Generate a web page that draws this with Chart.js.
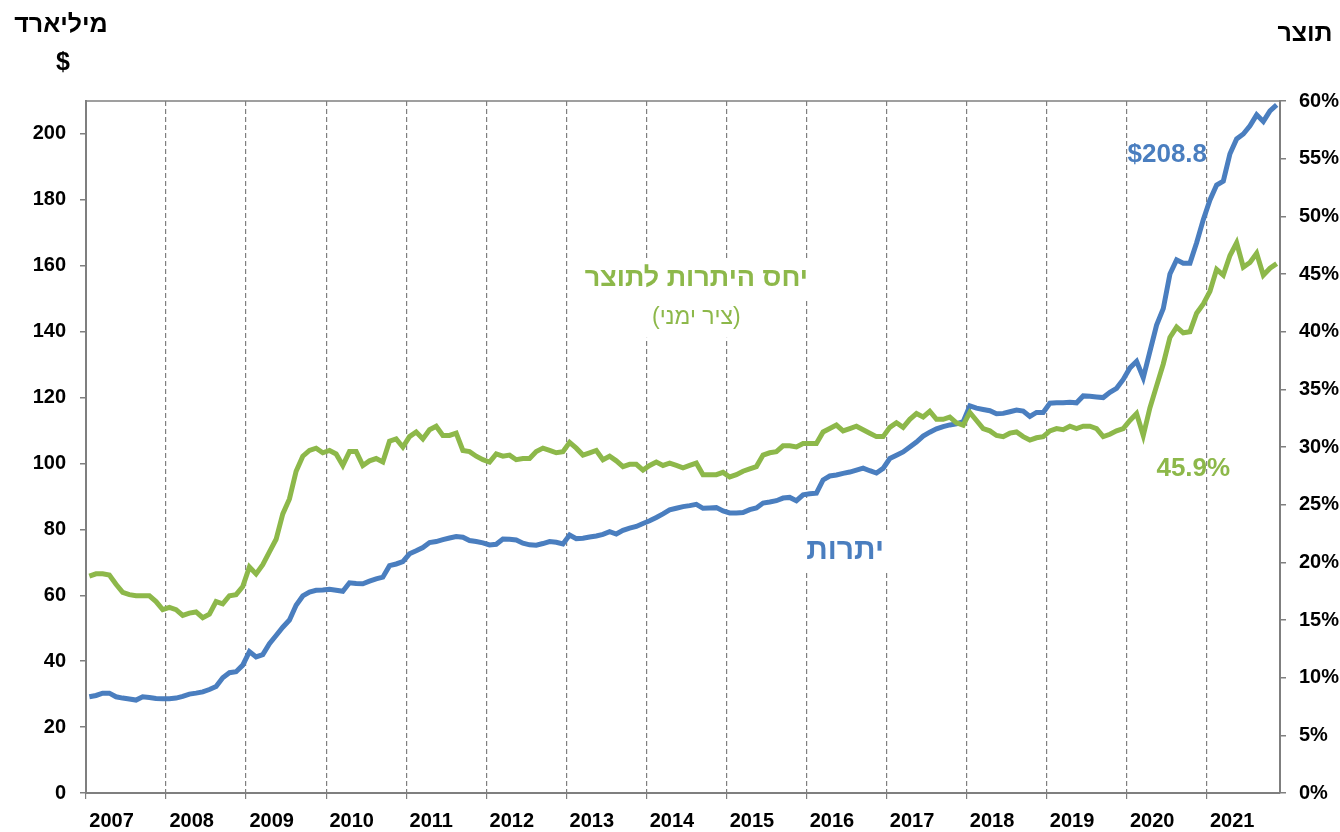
<!DOCTYPE html>
<html lang="he">
<head>
<meta charset="UTF-8">
<title>יתרות ויחס היתרות לתוצר</title>
<script src="https://cdn.jsdelivr.net/npm/chart.js@4.4.0/dist/chart.umd.min.js"></script>
<style>
  html, body { margin: 0; padding: 0; background: #fff; }
  #wrap { width: 1340px; height: 832px; position: relative; }
</style>
</head>
<body>
<div id="wrap"><canvas id="c"></canvas></div>
<script>
// monthly data, Jan 2007 .. Nov 2021
const START_YEAR = 2007;
const MONTH_COUNT = 179;

// reserves, billion $ (left axis)
const reserves = [
  29.2, 29.6, 30.3, 30.3, 29.2, 28.8, 28.5, 28.2, 29.2, 29.0, 28.7, 28.6,   // 2007
  28.6, 28.8, 29.3, 30.0, 30.3, 30.7, 31.4, 32.3, 35.0, 36.5, 36.8, 38.8,   // 2008
  42.9, 41.3, 42.0, 45.3, 47.8, 50.3, 52.5, 57.0, 59.8, 61.0, 61.5, 61.6,   // 2009
  61.8, 61.5, 61.2, 63.8, 63.6, 63.5, 64.3, 65.0, 65.5, 69.0, 69.5, 70.2,   // 2010
  72.6, 73.5, 74.5, 76.0, 76.3, 76.9, 77.4, 77.8, 77.6, 76.6, 76.3, 75.9,   // 2011
  75.3, 75.5, 77.1, 77.0, 76.8, 75.8, 75.3, 75.2, 75.7, 76.3, 76.1, 75.6,   // 2012
  78.3, 77.2, 77.3, 77.7, 78.0, 78.5, 79.3, 78.6, 79.7, 80.4, 80.9, 81.8,   // 2013
  82.6, 83.6, 84.7, 85.9, 86.4, 86.9, 87.2, 87.6, 86.4, 86.5, 86.6, 85.6,   // 2014
  85.0, 85.0, 85.1, 86.0, 86.5, 88.0, 88.3, 88.7, 89.5, 89.7, 88.7, 90.5,   // 2015
  90.8, 91.0, 95.0, 96.2, 96.5, 97.0, 97.4, 98.0, 98.6, 97.8, 97.1, 98.5,   // 2016
  101.5, 102.5, 103.5, 105.0, 106.5, 108.3, 109.5, 110.5, 111.2, 111.7, 112.0, 112.7, // 2017
  117.5, 116.8, 116.4, 116.0, 115.1, 115.2, 115.7, 116.2, 115.9, 114.3, 115.5, 115.5, // 2018
  118.3, 118.4, 118.4, 118.6, 118.4, 120.5, 120.4, 120.2, 120.0, 121.6, 122.8, 125.5, // 2019
  129.0, 131.0, 126.0, 134.0, 142.0, 147.0, 157.5, 161.8, 160.8, 160.8, 167.0, 174.0, // 2020
  180.0, 184.5, 185.7, 194.0, 198.5, 200.0, 202.5, 205.8, 203.8, 207.0, 208.8         // 2021
];

// reserves to GDP, % (right axis)
const reservesToGdp = [
  18.8, 19.0, 19.0, 18.9, 18.1, 17.4, 17.2, 17.1, 17.1, 17.1, 16.6, 15.9,   // 2007
  16.1, 15.9, 15.4, 15.6, 15.7, 15.2, 15.5, 16.6, 16.4, 17.1, 17.2, 17.9,   // 2008
  19.6, 19.0, 19.8, 20.9, 22.0, 24.2, 25.5, 27.9, 29.2, 29.7, 29.9, 29.5,   // 2009
  29.7, 29.4, 28.4, 29.6, 29.6, 28.4, 28.8, 29.0, 28.7, 30.5, 30.7, 30.0,   // 2010
  30.9, 31.3, 30.7, 31.5, 31.8, 31.0, 31.0, 31.2, 29.7, 29.6, 29.2, 28.9,   // 2011
  28.7, 29.4, 29.2, 29.3, 28.9, 29.0, 29.0, 29.6, 29.9, 29.7, 29.5, 29.6,   // 2012
  30.4, 29.9, 29.3, 29.5, 29.7, 28.9, 29.2, 28.8, 28.3, 28.5, 28.5, 28.0,   // 2013
  28.4, 28.7, 28.4, 28.6, 28.4, 28.2, 28.4, 28.6, 27.6, 27.6, 27.6, 27.8,   // 2014
  27.4, 27.6, 27.9, 28.1, 28.3, 29.3, 29.5, 29.6, 30.1, 30.1, 30.0, 30.3,   // 2015
  30.3, 30.3, 31.3, 31.6, 31.9, 31.4, 31.6, 31.8, 31.5, 31.2, 30.9, 30.9,   // 2016
  31.7, 32.1, 31.7, 32.4, 32.9, 32.6, 33.1, 32.4, 32.4, 32.6, 32.1, 31.9,   // 2017
  33.0, 32.3, 31.6, 31.4, 31.0, 30.9, 31.2, 31.3, 30.9, 30.6, 30.8, 30.9,   // 2018
  31.4, 31.6, 31.5, 31.8, 31.6, 31.8, 31.8, 31.6, 30.9, 31.1, 31.4, 31.6,   // 2019
  32.3, 32.9, 31.0, 33.4, 35.3, 37.2, 39.5, 40.4, 39.9, 40.0, 41.6, 42.4,   // 2020
  43.5, 45.4, 44.9, 46.6, 47.7, 45.6, 46.0, 46.8, 44.9, 45.5, 45.9          // 2021
];

const months = [];
for (let i = 0; i < MONTH_COUNT; i++) {
  const y = START_YEAR + Math.floor(i / 12);
  months.push(y + '-' + String(i % 12 + 1).padStart(2, '0'));
}

const BLUE = '#4a7ebf';
const GREEN = '#8db84a';
const AXIS = '#7f7f7f';
const FONT = '"Liberation Sans", Arial, sans-serif';

// text labels inside the plot: [text, month index, left-axis value, font, colour, white box]
const notes = [
  ['יחס היתרות לתוצר', 91, 156.0, 'bold 27px ' + FONT, GREEN, true],
  ['(ציר ימני)', 91, 144.2, '23px ' + FONT, GREEN, true],
  ['יתרות', 113.3, 73.4, 'bold 30px ' + FONT, BLUE, true],
  ['$208.8', 161.6, 193.6, 'bold 26px ' + FONT, BLUE, false],
  ['45.9%', 165.5, 98.3, 'bold 26px ' + FONT, GREEN, false]
];

const overlay = {
  id: 'overlay',
  beforeDatasetsDraw(chart) {
    const {ctx, chartArea, scales} = chart;
    ctx.save();
    // top frame line
    ctx.strokeStyle = AXIS;
    ctx.lineWidth = 1.5;
    ctx.beginPath();
    ctx.moveTo(chartArea.left, chartArea.top);
    ctx.lineTo(chartArea.right, chartArea.top);
    ctx.stroke();
    // white boxes behind the series names
    ctx.fillStyle = '#fff';
    notes.forEach(n => {
      if (!n[5]) return;
      ctx.font = n[3];
      const w = ctx.measureText(n[0]).width;
      const x = scales.x.getPixelForValue(n[1]);
      const y = scales.y.getPixelForValue(n[2]);
      ctx.fillRect(x - w / 2 - 10, y - 20, w + 20, 40);
    });
    ctx.restore();
  },
  afterDraw(chart) {
    const {ctx, scales} = chart;
    ctx.save();
    ctx.textAlign = 'center';
    ctx.textBaseline = 'middle';
    notes.forEach(n => {
      ctx.font = n[3];
      ctx.fillStyle = n[4];
      ctx.direction = /[\u0590-\u05FF]/.test(n[0]) ? 'rtl' : 'ltr';
      ctx.fillText(n[0], scales.x.getPixelForValue(n[1]), scales.y.getPixelForValue(n[2]));
    });
    // axis titles
    ctx.fillStyle = '#000';
    ctx.font = 'bold 25px ' + FONT;
    ctx.direction = 'rtl';
    ctx.fillText('מיליארד', 61, 25);
    ctx.fillText('תוצר', 1305, 34);
    ctx.direction = 'ltr';
    ctx.fillText('$', 63, 63);
    ctx.restore();
  }
};

new Chart(document.getElementById('c'), {
  type: 'line',
  data: {
    labels: months,
    datasets: [
      {
        label: 'יחס היתרות לתוצר',
        data: reservesToGdp,
        yAxisID: 'y1',
        borderColor: GREEN,
        borderWidth: 5,
        pointRadius: 0,
        tension: 0
      },
      {
        label: 'יתרות',
        data: reserves,
        yAxisID: 'y',
        borderColor: BLUE,
        borderWidth: 5,
        pointRadius: 0,
        tension: 0
      }
    ]
  },
  options: {
    responsive: true,
    maintainAspectRatio: false,
    animation: false,
    layout: { padding: { top: 101, left: 0, right: 0, bottom: 0 } },
    plugins: { legend: { display: false }, tooltip: { enabled: false } },
    scales: {
      x: {
        type: 'category',
        offset: true,
        grid: {
          offset: true,
          color: c => (c.index % 12 === 0 && c.index > 0) ? AXIS : 'rgba(0,0,0,0)',
          tickColor: c => (c.index % 12 === 0) ? AXIS : 'rgba(0,0,0,0)',
          lineWidth: 1.2,
          tickLength: 6
        },
        border: { display: true, color: AXIS, width: 2, dash: [5, 3] },
        ticks: {
          autoSkip: false,
          maxRotation: 0,
          align: 'start',
          padding: 10,
          color: '#000',
          font: { family: FONT, size: 20, weight: 'bold' },
          callback: (v, i) => (i % 12 === 0) ? String(START_YEAR + i / 12) : ''
        },
        afterFit: s => { s.height = 39; }
      },
      y: {
        position: 'left',
        min: 0,
        max: 210,
        grid: { drawOnChartArea: false, tickLength: 6, tickColor: AXIS, lineWidth: 1.5 },
        border: { color: AXIS, width: 2 },
        ticks: {
          stepSize: 20,
          includeBounds: false,
          padding: 14,
          color: '#000',
          font: { family: FONT, size: 20, weight: 'bold' }
        },
        afterFit: s => { s.width = 86; }
      },
      y1: {
        position: 'right',
        min: 0,
        max: 60,
        grid: { drawOnChartArea: false, tickLength: 6, tickColor: AXIS, lineWidth: 1.5 },
        border: { color: AXIS, width: 2 },
        ticks: {
          stepSize: 5,
          includeBounds: false,
          padding: 13,
          color: '#000',
          font: { family: FONT, size: 20, weight: 'bold' },
          callback: v => v + '%'
        },
        afterFit: s => { s.width = 60; }
      }
    }
  },
  plugins: [overlay]
});
</script>
</body>
</html>
